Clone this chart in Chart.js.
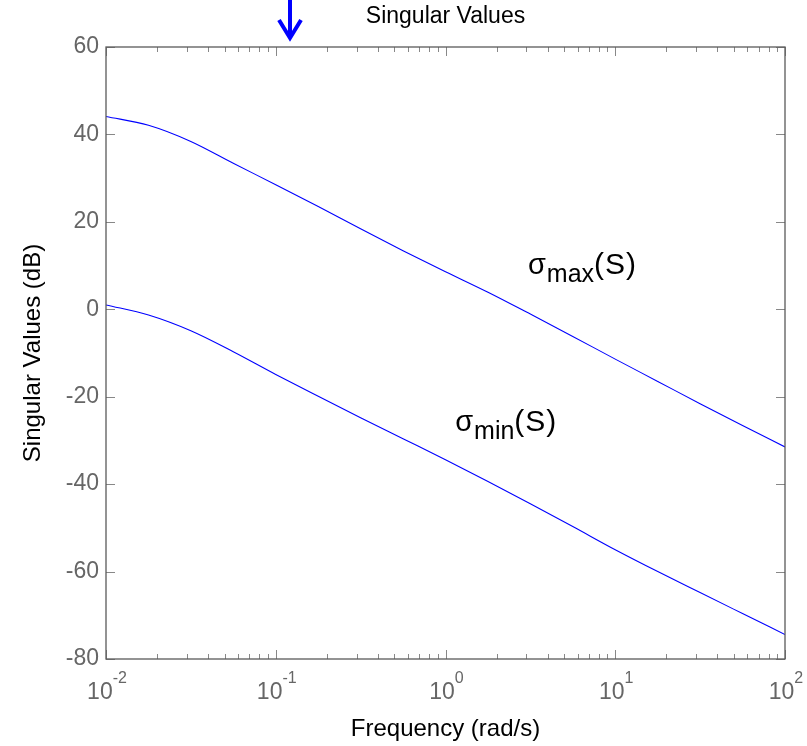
<!DOCTYPE html>
<html>
<head>
<meta charset="utf-8">
<script src="https://cdn.jsdelivr.net/npm/chart.js@4/dist/chart.umd.min.js"></script>
<style>
html,body{margin:0;padding:0;background:#fff;}
#wrap{width:807px;height:746px;position:relative;}
</style>
</head>
<body>
<div id="wrap"><canvas id="c" width="807" height="746"></canvas></div>
<script>
// Frequency (rad/s)
const frequency = [0.01, 0.0178, 0.0316, 0.0562, 0.1, 0.178, 0.316, 0.562, 1, 1.78, 3.16, 5.62, 10, 17.8, 31.6, 56.2, 100];
// Singular values (dB)
const sigmaMax = [44.1, 42.1, 38.4, 33.4, 28.5, 23.5, 18.4, 13.4, 8.6, 3.9, -1.1, -6.2, -11.4, -16.5, -21.6, -26.6, -31.5];
const sigmaMin = [1.0, -1.3, -4.9, -9.7, -14.9, -19.9, -24.8, -29.6, -34.4, -39.4, -44.5, -49.7, -55.0, -60.0, -64.8, -69.6, -74.4];
// Tick labels
const xDecades = [-2, -1, 0, 1, 2];
const yTicks = [-80, -60, -40, -20, 0, 20, 40, 60];
const titleText = "Singular Values";
const xTitle = "Frequency (rad/s)";
const yTitle = "Singular Values (dB)";
const annMax = {value: 8.05, freq: 3.06, sym: "σ", sub: "max", tail: "(S)"};
const annMin = {value: -27.9, freq: 1.14, sym: "σ", sub: "min", tail: "(S)"};
const arrowFreq = 0.122;

const FONT = "'Liberation Sans', Arial, Helvetica, sans-serif";
const TICK_COLOR = '#666666';

const toPts = arr => arr.map((v, i) => ({x: frequency[i], y: v}));

const decorPlugin = {
  id: 'decor',
  afterDraw(chart) {
    const ctx = chart.ctx;
    const xs = chart.scales.x, ys = chart.scales.y;
    const a = chart.chartArea;
    ctx.save();
    // ticks (inward) on all four sides
    ctx.strokeStyle = '#888888';
    ctx.lineWidth = 1;
    ctx.beginPath();
    yTicks.forEach(v => {
      const py = Math.round(ys.getPixelForValue(v)) + 0.5;
      ctx.moveTo(a.left, py); ctx.lineTo(a.left + 9, py);
      ctx.moveTo(a.right, py); ctx.lineTo(a.right - 9, py);
    });
    for (let d = -2; d <= 2; d++) {
      for (let m = 1; m <= 9; m++) {
        if (d === 2 && m > 1) break;
        const f = m * Math.pow(10, d);
        const px = Math.round(xs.getPixelForValue(f)) + 0.5;
        const len = (m === 1) ? 9 : 5;
        ctx.moveTo(px, a.bottom); ctx.lineTo(px, a.bottom - len);
        ctx.moveTo(px, a.top); ctx.lineTo(px, a.top + len);
      }
    }
    ctx.stroke();
    // box
    ctx.strokeStyle = '#5a5a5a';
    ctx.lineWidth = 1.3;
    ctx.strokeRect(a.left, a.top, a.right - a.left, a.bottom - a.top);
    // x tick labels 10^n
    ctx.fillStyle = TICK_COLOR;
    ctx.textBaseline = 'alphabetic';
    xDecades.forEach(d => {
      const px = xs.getPixelForValue(Math.pow(10, d));
      ctx.font = '23px ' + FONT;
      const w1 = ctx.measureText('10').width;
      ctx.font = '16px ' + FONT;
      const sup = String(d);
      const w2 = ctx.measureText(sup).width;
      const x0 = px + 1 - (w1 + w2) / 2;
      ctx.font = '23px ' + FONT;
      ctx.textAlign = 'left';
      ctx.fillText('10', x0, a.bottom + 40);
      ctx.font = '16px ' + FONT;
      ctx.fillText(sup, x0 + w1, a.bottom + 24);
    });
    // annotations
    const drawAnn = (ann) => {
      let x = xs.getPixelForValue(ann.freq);
      const y = ys.getPixelForValue(ann.value);
      ctx.fillStyle = '#000000';
      ctx.textAlign = 'left';
      ctx.font = '29px ' + FONT;
      ctx.fillText(ann.sym, x, y);
      x += ctx.measureText(ann.sym).width + 1;
      ctx.font = '25px ' + FONT;
      ctx.fillText(ann.sub, x, y + 8);
      x += ctx.measureText(ann.sub).width;
      ctx.font = '30px ' + FONT;
      if ('letterSpacing' in ctx) ctx.letterSpacing = '1px';
      ctx.fillText(ann.tail, x, y);
      if ('letterSpacing' in ctx) ctx.letterSpacing = '0px';
    };
    drawAnn(annMax);
    drawAnn(annMin);
    // arrow
    const ax = Math.round(xs.getPixelForValue(arrowFreq));
    ctx.strokeStyle = '#0000ff';
    ctx.lineWidth = 4;
    ctx.lineCap = 'butt';
    ctx.beginPath();
    ctx.moveTo(ax, 0); ctx.lineTo(ax, 37);
    ctx.stroke();
    ctx.lineJoin = 'miter';
    ctx.beginPath();
    ctx.moveTo(ax - 11, 20); ctx.lineTo(ax, 38); ctx.lineTo(ax + 11, 20);
    ctx.stroke();
    ctx.restore();
  }
};

new Chart(document.getElementById('c'), {
  type: 'line',
  data: {
    datasets: [
      {label: 'σmax(S)', data: toPts(sigmaMax), borderColor: '#0000ff', borderWidth: 1.1, pointRadius: 0, cubicInterpolationMode: 'monotone', fill: false},
      {label: 'σmin(S)', data: toPts(sigmaMin), borderColor: '#0000ff', borderWidth: 1.1, pointRadius: 0, cubicInterpolationMode: 'monotone', fill: false}
    ]
  },
  options: {
    responsive: false,
    animation: false,
    events: [],
    layout: {padding: {left: 0, right: 22, top: 0, bottom: 0}},
    plugins: {legend: {display: false}, tooltip: {enabled: false}, title: {display: false}},
    scales: {
      x: {
        type: 'logarithmic', position: 'bottom', min: 0.01, max: 100,
        grid: {display: false, drawTicks: false},
        border: {display: false},
        ticks: {display: false},
        title: {display: true, text: xTitle, color: '#000000', font: {family: FONT, size: 24}, padding: {top: 0, bottom: 2}},
        afterFit: s => { s.height = 87; }
      },
      xTop: {
        type: 'logarithmic', position: 'top', min: 0.01, max: 100,
        grid: {display: false, drawTicks: false},
        border: {display: false},
        ticks: {display: false},
        title: {display: true, text: titleText, color: '#000000', font: {family: FONT, size: 23}, padding: {top: 3, bottom: 0}},
        afterFit: s => { s.height = 47; }
      },
      y: {
        type: 'linear', min: -80, max: 60,
        grid: {display: false, drawTicks: false},
        border: {display: false},
        ticks: {stepSize: 20, color: TICK_COLOR, font: {family: FONT, size: 23}, padding: 7},
        title: {display: true, text: yTitle, color: '#000000', font: {family: FONT, size: 24}, padding: {top: 19, bottom: 0}},
        afterFit: s => { s.width = 106; }
      }
    }
  },
  plugins: [decorPlugin]
});
</script>
</body>
</html>
